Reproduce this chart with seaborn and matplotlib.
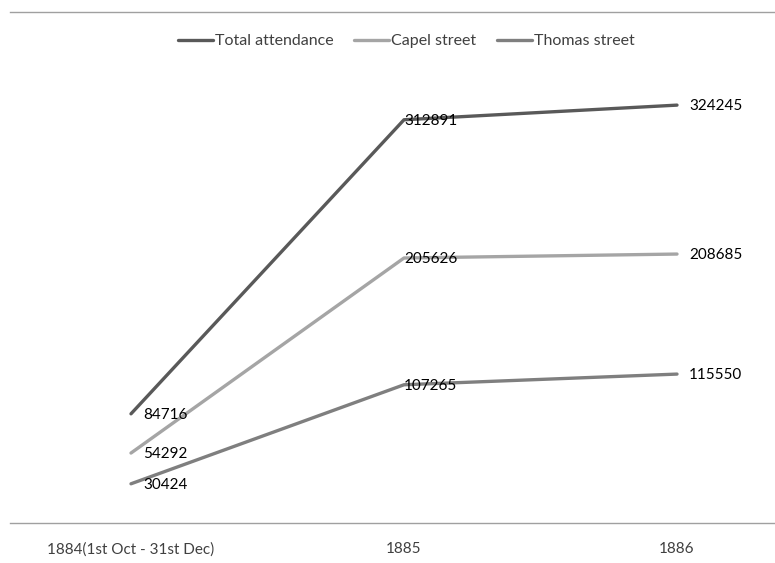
import matplotlib.pyplot as plt
import pandas as pd
import seaborn as sns

# data
periods = ["1884(1st Oct - 31st Dec)", "1885", "1886"]
total_attendance = [84716, 312891, 324245]
capel_street = [54292, 205626, 208685]
thomas_street = [30424, 107265, 115550]

series_names = ["Total attendance", "Capel street", "Thomas street"]
series_values = [total_attendance, capel_street, thomas_street]
colors = ["#595959", "#a5a5a5", "#7f7f7f"]

rows = []
for name, vals in zip(series_names, series_values):
    for i, v in enumerate(vals):
        rows.append({"pos": i, "period": periods[i], "series": name, "value": v})
df = pd.DataFrame(rows)

sns.set_theme(style="white")
plt.rcParams["font.family"] = ["Lato", "DejaVu Sans"]

fig = plt.figure(figsize=(7.75, 5.63), dpi=100)
ax = fig.add_axes([10 / 775, 40 / 563, 765 / 775, 511 / 563])

sns.lineplot(data=df, x="pos", y="value", hue="series", hue_order=series_names,
             palette=colors, linewidth=2.4, ax=ax, legend=True)

# data labels to the right of each point
offsets = [12, 0, 12]
for name, vals in zip(series_names, series_values):
    for i, v in enumerate(vals):
        ax.annotate(str(v), (i, v), xytext=(offsets[i], -1), textcoords="offset pixels",
                    ha="left", va="center", fontsize=11, color="#000000")

ax.set_xlim((10 - 131) / 273, (775 - 131) / 273)
ax.set_ylim(0, 396500)
ax.set_xticks(range(len(periods)))
ax.set_xticklabels(periods, fontsize=11, color="#404040")
ax.set_yticks([])
ax.set_xlabel("")
ax.set_ylabel("")
ax.tick_params(axis="x", length=0, pad=14)

for side in ["left", "right"]:
    ax.spines[side].set_visible(False)
for side in ["top", "bottom"]:
    ax.spines[side].set_color("#a0a0a0")
    ax.spines[side].set_linewidth(1.0)

leg = ax.legend(loc="upper center", bbox_to_anchor=(0.518, 0.985), ncol=3, frameon=False,
                fontsize=11.5, handlelength=2.2, handletextpad=0.1, columnspacing=1.3)
for t in leg.get_texts():
    t.set_color("#404040")

fig.savefig("out.png", dpi=100)
